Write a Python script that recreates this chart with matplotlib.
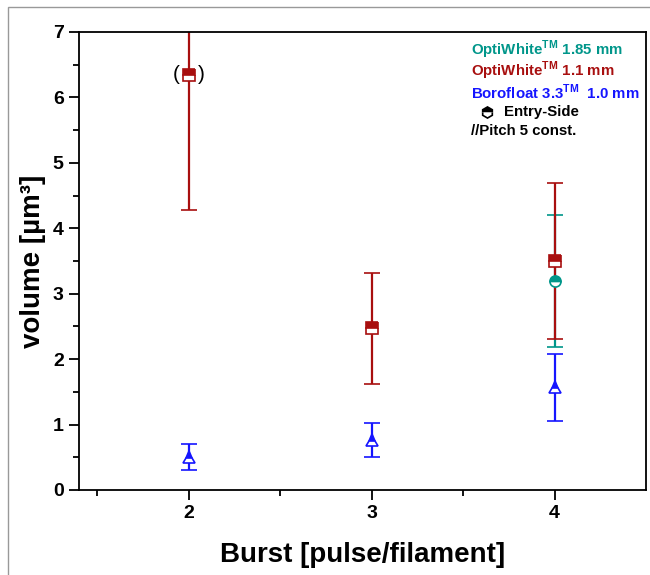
import matplotlib
matplotlib.use("Agg")
import matplotlib.pyplot as plt
from matplotlib.patches import Rectangle
from matplotlib.lines import Line2D
import numpy as np

plt.rcParams['font.family'] = ['Liberation Sans', 'DejaVu Sans']
plt.rcParams['font.weight'] = 'bold'
plt.rcParams['mathtext.fontset'] = 'custom'
plt.rcParams['mathtext.bf'] = 'Liberation Sans:bold'
plt.rcParams['mathtext.rm'] = 'Liberation Sans:bold'

# Data
burst_ow185 = [4]
vol_ow185 = [3.19]
err_ow185 = [1.01]

burst_ow11 = [2, 3, 4]
vol_ow11 = [6.35, 2.47, 3.50]
err_ow11 = [2.07, 0.85, 1.19]

burst_bf = [2, 3, 4]
vol_bf = [0.50, 0.76, 1.57]
err_bf = [0.20, 0.26, 0.51]

xticks = [2, 3, 4]
yticks = [0, 1, 2, 3, 4, 5, 6, 7]

c_teal = '#00968A'
c_red = '#A80F0F'
c_blue = '#1515FF'

fig = plt.figure(figsize=(6.5, 5.75), dpi=100)
ax = fig.add_axes([79/650, 85/575, 567/650, 458/575])

# figure frame (grey)
fig.patches.append(Rectangle((8/650, -0.01), 1.0, (575-7)/575 + 0.01, transform=fig.transFigure,
                             fill=False, edgecolor='#999999', lw=1.0, zorder=0))

common = dict(capsize=6, elinewidth=1.6, capthick=1.6, ls='none', markersize=8,
              fillstyle='top', markerfacecoloralt='white', markeredgewidth=1.2)
ax.errorbar(burst_bf, vol_bf, yerr=err_bf, color=c_blue, marker='^', **common)
ax.errorbar(burst_ow185, vol_ow185, yerr=err_ow185, color=c_teal, marker='o', **common)
ax.errorbar(burst_ow11, vol_ow11, yerr=err_ow11, color=c_red, marker='s', **common)

# parentheses around first OptiWhite 1.1 point
ax.annotate('(', (burst_ow11[0], vol_ow11[0]), xytext=(-9, 0), textcoords='offset points',
            ha='center', va='center', fontsize=15, fontweight='normal')
ax.annotate(')', (burst_ow11[0], vol_ow11[0]), xytext=(9, 0), textcoords='offset points',
            ha='center', va='center', fontsize=15, fontweight='normal')

ax.set_xlim(1.4, 4.5)
ax.set_ylim(0, 7)
ax.set_xticks(xticks)
ax.set_yticks(yticks)
ax.set_xticks([1.5, 2.5, 3.5], minor=True)
ax.set_yticks(np.arange(0.5, 7, 1.0), minor=True)
ax.tick_params(axis='both', which='major', direction='out', length=7, width=1.3,
               labelsize=14, pad=4)
ax.tick_params(axis='both', which='minor', direction='out', length=4, width=1.3)
ax.tick_params(top=False, right=False)
for lbl in ax.get_xticklabels() + ax.get_yticklabels():
    lbl.set_fontweight('bold')
for s in ax.spines.values():
    s.set_linewidth(1.3)

ax.set_ylabel('volume [µm³]', fontsize=20, fontweight='bold', labelpad=5)
ax.set_xlabel('Burst [pulse/filament]', fontsize=20, fontweight='bold', labelpad=14)

# legend texts
tx = (471-79)/567
def ypos(py):
    return (490-py)/458
fs = 10.8
ax.text(tx, ypos(50), 'OptiWhite$^{\\mathbf{TM}}$ 1.85 mm', color=c_teal, transform=ax.transAxes,
        fontsize=fs, fontweight='bold', va='center')
ax.text(tx, ypos(71), 'OptiWhite$^{\\mathbf{TM}}$ 1.1 mm', color=c_red, transform=ax.transAxes,
        fontsize=fs, fontweight='bold', va='center')
ax.text(tx, ypos(92), 'Borofloat 3.3$^{\\mathbf{TM}}$  1.0 mm', color=c_blue, transform=ax.transAxes,
        fontsize=fs, fontweight='bold', va='center')
ax.add_line(Line2D([(487-79)/567], [ypos(112)], transform=ax.transAxes, marker='h', color='black',
                   markersize=8, fillstyle='top', markerfacecoloralt='white', markeredgewidth=1.2,
                   clip_on=False))
ax.text((504-79)/567, ypos(112), 'Entry-Side', color='black', transform=ax.transAxes,
        fontsize=fs, fontweight='bold', va='center')
ax.text(tx, ypos(131), '//Pitch 5 const.', color='black', transform=ax.transAxes,
        fontsize=fs, fontweight='bold', va='center')

fig.savefig('out.png', dpi=100)
